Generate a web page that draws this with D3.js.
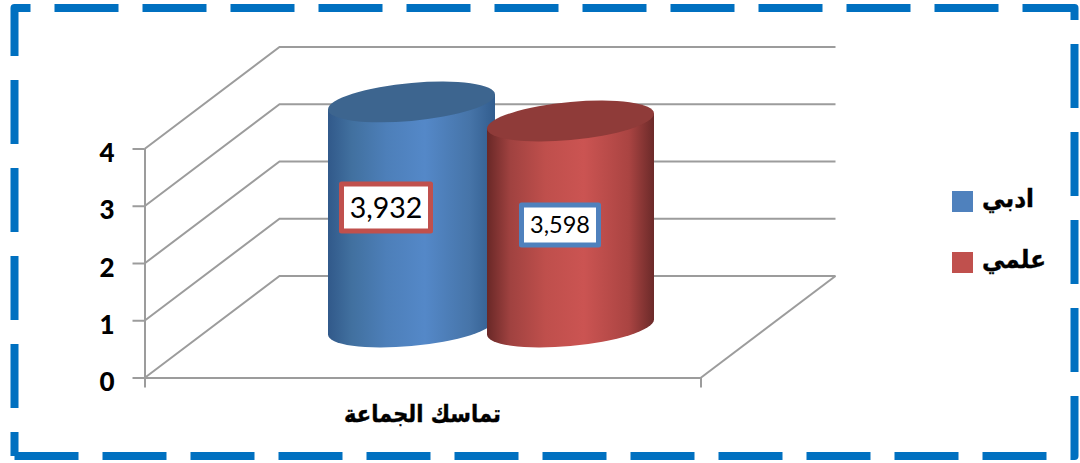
<!DOCTYPE html>
<html>
<head>
<meta charset="utf-8">
<title>تماسك الجماعة</title>
<style>
body { margin: 0; background: #fff; }
svg { display: block; }
.axis path, .axis line { stroke: #9c9c9c; stroke-width: 2; }
.axis text { fill: #000; font-weight: bold; }
</style>
</head>
<body>
<svg width="1080" height="463"></svg>
<script src="https://d3js.org/d3.v7.min.js"></script>
<script>
// data
const categories = ["تماسك الجماعة"];
const seriesNames = ["ادبي", "علمي"];
const seriesValues = [3.932, 3.598];
const valueLabels = ["3,932", "3,598"];
const yTicks = [0, 1, 2, 3, 4];

const barColors = ["#4f81bd", "#c0504d"];
const boxColors = ["#c0504d", "#4f81bd"];
const capColors = ["#3d658f", "#8f3b39"];

// 3d offset of the back wall
const depthX = 135, depthY = -102;
// bars stand half way into the floor
const barLift = 50.5;

const svg = d3.select("svg");

// dashed frame, the left side has its own dash phase
const frame = svg.append("g").attr("fill", "none").attr("stroke", "#0070c0")
    .attr("stroke-width", 8).attr("stroke-linejoin", "round");
frame.append("path").attr("d", "M14.5,56V8H1074.5V456H14.5").attr("stroke-dasharray", "64 24");
frame.append("path").attr("d", "M14.5,456V56").attr("stroke-dasharray", "64 24").attr("stroke-dashoffset", 40);

const y = d3.scaleLinear().domain([0, 4]).range([377.5, 148.5]);
const x0 = d3.scaleBand().domain(categories).range([144.5, 700.5]);
const x1 = d3.scaleBand().domain(seriesNames).range([332, 650]);

// walls
const grid = svg.append("g").attr("fill", "none").attr("stroke", "#9c9c9c").attr("stroke-width", 2);
grid.selectAll("path.wall")
    .data(yTicks)
    .join("path")
    .attr("class", "wall")
    .attr("d", d => d3.line()([
        [x0.range()[0], y(d) + .5],
        [x0.range()[0] + depthX, y(d) + .5 + depthY],
        [x0.range()[1] + depthX, y(d) + .5 + depthY]
    ]));
grid.append("path")
    .attr("d", d3.line()([
        [x0.range()[1], y(0) + .5],
        [x0.range()[1] + depthX, y(0) + .5 + depthY]
    ]));

// axes
const yAxis = svg.append("g").attr("class", "axis")
    .attr("transform", `translate(${x0.range()[0]},0)`)
    .call(d3.axisLeft(y).tickValues(yTicks).tickFormat(d3.format("d")).tickSize(12).tickSizeOuter(0).tickPadding(18));
yAxis.selectAll("text")
    .attr("font-family", "Lato")
    .attr("style", "font-weight:900")
    .attr("font-size", 26)
    .attr("dy", "0.5em");

const xAxis = svg.append("g").attr("class", "axis")
    .attr("transform", `translate(0,${y(0)})`)
    .call(d3.axisBottom(x0).tickSizeInner(0).tickSizeOuter(10).tickPadding(27));
xAxis.selectAll("text")
    .attr("font-family", "DejaVu Sans")
    .attr("font-size", 24)
    .attr("textLength", 157)
    .attr("lengthAdjust", "spacingAndGlyphs")
    .attr("stroke", "#000")
    .attr("stroke-width", .4);

// gradients for the round sides
const defs = svg.append("defs");
const gradStops = [
    [["0%", "#31598a"], ["14%", "#41709f"], ["35%", "#4d7fb9"], ["58%", "#5488c8"], ["85%", "#4674a8"], ["100%", "#325d8e"]],
    [["0%", "#692827"], ["14%", "#a04240"], ["35%", "#bf4f4c"], ["58%", "#cb5452"], ["85%", "#aa4442"], ["100%", "#6b2a29"]]
];
gradStops.forEach((stops, i) => {
    defs.append("linearGradient").attr("id", "side" + i)
        .selectAll("stop")
        .data(stops)
        .join("stop")
        .attr("offset", d => d[0])
        .attr("stop-color", d => d[1]);
});

// cylinders
const rx = 83.5, ry = 19;
const skew = -5.13;
const bars = svg.append("g").selectAll("g")
    .data(seriesNames)
    .join("g")
    .attr("transform", d => `translate(${x1(d) + x1.bandwidth() / 2},0) skewY(${skew})`);
bars.append("path")
    .attr("fill", (d, i) => `url(#side${i})`)
    .attr("d", (d, i) => {
        const top = y(seriesValues[i]) - barLift, bottom = y(0) - barLift;
        return `M${-rx},${top}L${-rx},${bottom}A${rx},${ry} 0 0 0 ${rx},${bottom}L${rx},${top}Z`;
    });
bars.append("ellipse")
    .attr("rx", rx)
    .attr("ry", ry)
    .attr("cy", (d, i) => y(seriesValues[i]) - barLift)
    .attr("fill", (d, i) => capColors[i]);

// value labels
const labelBoxes = [
    { dx: -25.5, dy: -7, w: 89, h: 47, size: 28.5 },
    { dx: -10.5, dy: 1, w: 77, h: 40, size: 23.5 }
];
const labels = svg.append("g").selectAll("g")
    .data(seriesNames)
    .join("g")
    .attr("transform", (d, i) => `translate(${x1(d) + x1.bandwidth() / 2 + labelBoxes[i].dx},${(y(seriesValues[i]) + y(0)) / 2 - barLift + labelBoxes[i].dy})`);
labels.append("rect")
    .attr("x", (d, i) => -labelBoxes[i].w / 2)
    .attr("y", (d, i) => -labelBoxes[i].h / 2)
    .attr("width", (d, i) => labelBoxes[i].w)
    .attr("height", (d, i) => labelBoxes[i].h)
    .attr("fill", "#fff")
    .attr("stroke", (d, i) => boxColors[i])
    .attr("stroke-width", 5)
    .attr("stroke-linejoin", "round");
labels.append("text")
    .attr("text-anchor", "middle")
    .attr("dy", "0.36em")
    .attr("font-family", "Lato")
    .attr("font-size", (d, i) => labelBoxes[i].size)
    .text((d, i) => valueLabels[i]);

// legend
const legendWidths = [52, 64];
const legendY = d3.scalePoint().domain(seriesNames).range([191, 252]);
const legend = svg.append("g").selectAll("g")
    .data(seriesNames)
    .join("g")
    .attr("transform", d => `translate(952,${legendY(d)})`);
legend.append("rect")
    .attr("width", 21)
    .attr("height", 21)
    .attr("fill", (d, i) => barColors[i]);
legend.append("text")
    .attr("x", 30)
    .attr("y", 16)
    .attr("font-family", "DejaVu Sans")
    .attr("font-weight", "bold")
    .attr("font-size", 25)
    .attr("textLength", (d, i) => legendWidths[i])
    .attr("lengthAdjust", "spacingAndGlyphs")
    .attr("stroke", "#000")
    .attr("stroke-width", .4)
    .text(d => d);
</script>
</body>
</html>
